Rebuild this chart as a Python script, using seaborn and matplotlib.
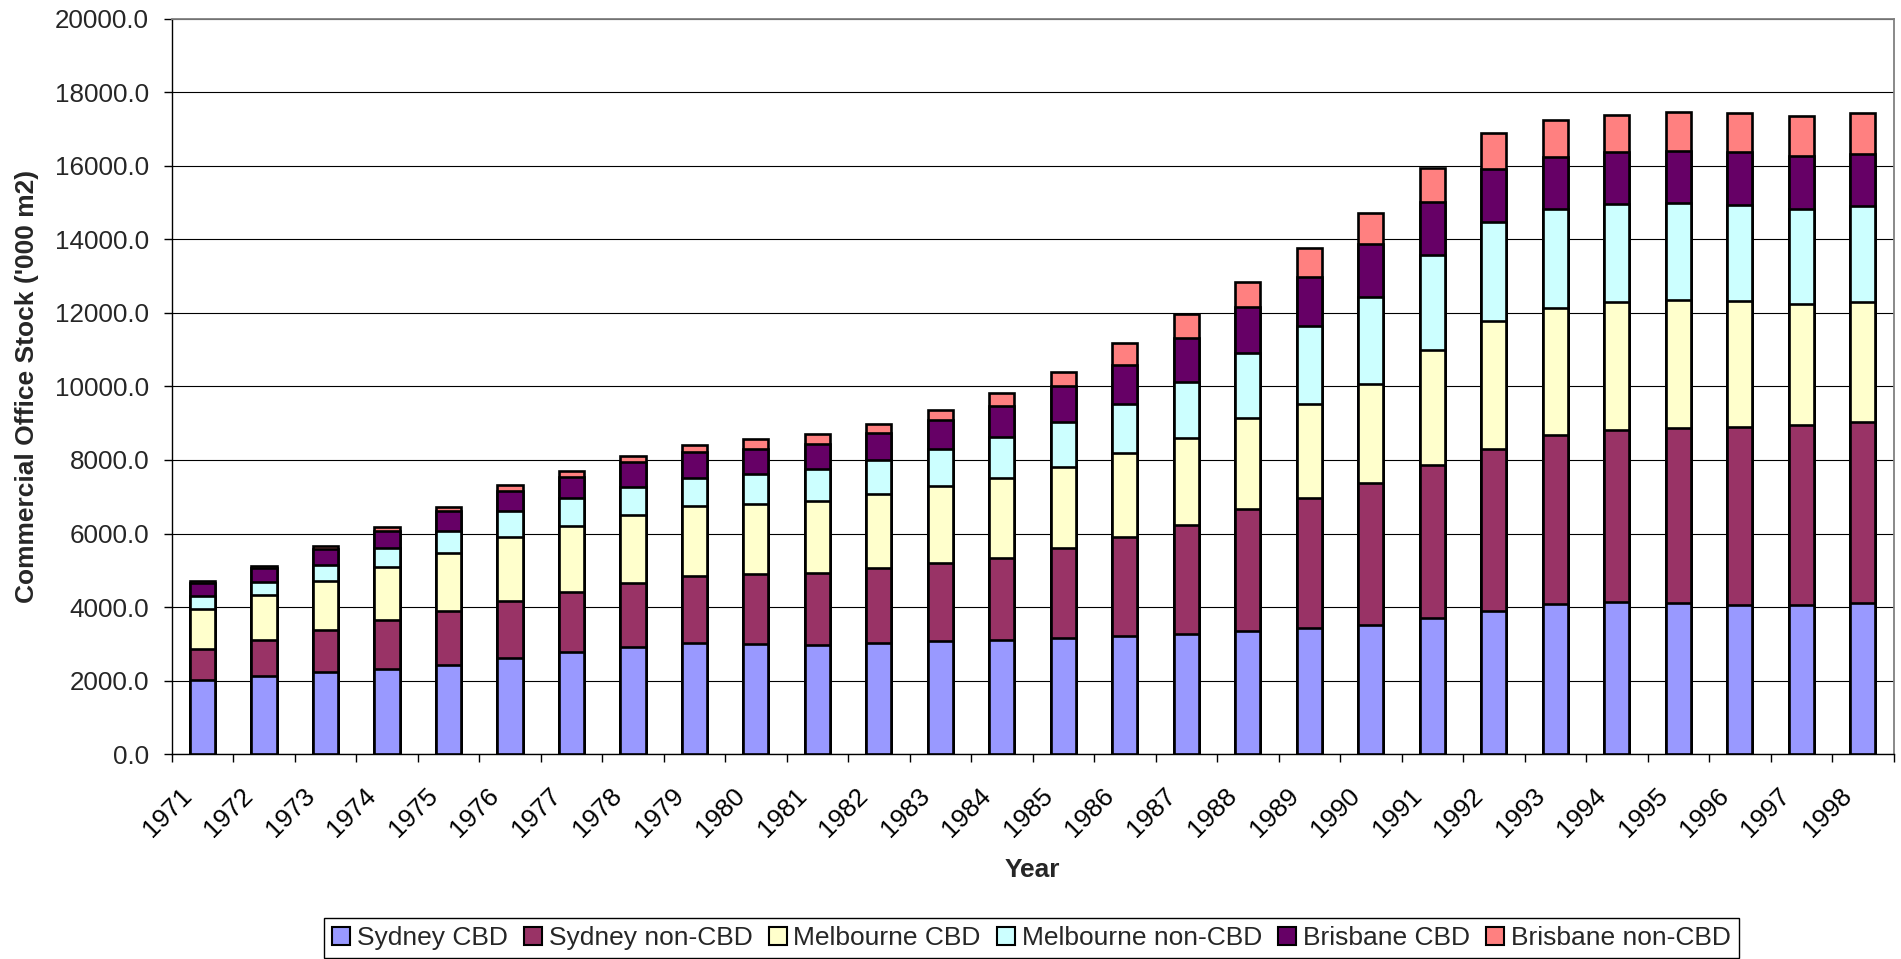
import numpy as np
import pandas as pd
import matplotlib
matplotlib.use("Agg")
import matplotlib.pyplot as plt
import matplotlib.transforms as mtransforms
from matplotlib.patches import Patch
import seaborn as sns

# ---------------- data ----------------
years = [str(y) for y in range(1971, 1999)]
series_names = ["Sydney CBD", "Sydney non-CBD", "Melbourne CBD",
                "Melbourne non-CBD", "Brisbane CBD", "Brisbane non-CBD"]
series_colors = ["#9999FF", "#993366", "#FFFFCC", "#CCFFFF", "#660066", "#FF8080"]

sydney_cbd = [2010, 2140, 2230, 2320, 2420, 2610, 2770, 2910, 3030, 3000,
              2980, 3030, 3070, 3110, 3170, 3220, 3280, 3360, 3420, 3510,
              3710, 3900, 4090, 4140, 4120, 4070, 4070, 4120]
sydney_non_cbd = [860, 970, 1160, 1320, 1470, 1550, 1650, 1750, 1820, 1890,
                  1940, 2030, 2130, 2220, 2430, 2690, 2960, 3300, 3550, 3870,
                  4160, 4410, 4600, 4680, 4750, 4830, 4880, 4900]
melbourne_cbd = [1090, 1210, 1320, 1460, 1590, 1750, 1790, 1850, 1910, 1910,
                 1970, 2020, 2100, 2180, 2210, 2280, 2360, 2490, 2540, 2690,
                 3110, 3480, 3440, 3480, 3470, 3430, 3280, 3270]
melbourne_non_cbd = [350, 360, 440, 510, 590, 700, 750, 750, 750, 820,
                     860, 930, 1000, 1110, 1230, 1320, 1520, 1770, 2120, 2360,
                     2590, 2670, 2680, 2650, 2640, 2610, 2590, 2610]
brisbane_cbd = [340, 380, 430, 460, 530, 560, 570, 680, 700, 690,
                690, 730, 780, 850, 960, 1080, 1190, 1230, 1340, 1430,
                1430, 1440, 1430, 1430, 1420, 1420, 1430, 1430]
brisbane_non_cbd = [70, 70, 90, 110, 110, 150, 180, 180, 210, 260,
                    270, 250, 290, 350, 390, 580, 660, 680, 800, 860,
                    930, 980, 1000, 1010, 1060, 1070, 1100, 1100]

y_ticks = list(range(0, 20001, 2000))
x_label = "Year"
y_label = "Commercial Office Stock ('000 m2)"

# ---------------- figure ----------------
sns.set_style("white")
plt.rcParams["font.family"] = ["Liberation Sans", "DejaVu Sans"]

W, H = 1901, 959
fig = plt.figure(figsize=(W / 100, H / 100), dpi=100)
ax_left, ax_right, ax_top, ax_bottom = 171.7, 1893.5, 18.5, 754.3
fig.subplots_adjust(left=ax_left / W, right=ax_right / W,
                    bottom=1 - ax_bottom / H, top=1 - ax_top / H)
ax = fig.add_subplot(111)

df = pd.DataFrame({
    "year": years,
    series_names[0]: sydney_cbd,
    series_names[1]: sydney_non_cbd,
    series_names[2]: melbourne_cbd,
    series_names[3]: melbourne_non_cbd,
    series_names[4]: brisbane_cbd,
    series_names[5]: brisbane_non_cbd,
})
cum = df[series_names].cumsum(axis=1)

# draw cumulative totals from the top series down so that they stack visually
for name, color in reversed(list(zip(series_names, series_colors))):
    sns.barplot(x=df["year"], y=cum[name], color=color, saturation=1,
                edgecolor="black", linewidth=1.9, width=0.41,
                errorbar=None, ax=ax, zorder=3)

ax.set_xlim(-0.5, len(years) - 0.5)
ax.set_ylim(0, 20000)
ax.set_yticks(y_ticks)
ax.set_yticklabels([f"{v:.1f}" for v in y_ticks])

ax.set_axisbelow(True)
ax.yaxis.grid(True, color="black", linewidth=0.8)
ax.xaxis.grid(False)

# x ticks: marks at category boundaries, labels at centres
ax.set_xticks(np.arange(len(years)))
ax.set_xticklabels(years, rotation=45, ha="right", va="center",
                   rotation_mode="anchor")
ax.set_xticks(np.arange(-0.5, len(years), 1.0), minor=True)
ax.tick_params(axis="x", which="major", length=0, pad=27.2,
               labelsize=18.7, colors="black")
ax.tick_params(axis="x", which="minor", length=5.8, width=1.0,
               color="black", direction="out", bottom=True)
ax.tick_params(axis="y", which="major", length=5.8, width=1.0,
               pad=10.4, labelsize=18.7, color="black", left=True,
               direction="out")
offset = mtransforms.ScaledTranslation(-14.7 / 100, 0, fig.dpi_scale_trans)
for lbl in ax.get_xticklabels():
    lbl.set_transform(lbl.get_transform() + offset)

for side in ("left", "bottom"):
    ax.spines[side].set_color("black")
    ax.spines[side].set_linewidth(1.0)
for side in ("top", "right"):
    ax.spines[side].set_visible(True)
    ax.spines[side].set_color("#808080")
    ax.spines[side].set_linewidth(1.3)

ax.set_xlabel(x_label, fontsize=19, fontweight="bold", va="center")
ax.xaxis.set_label_coords(0.5, -(870 - ax_bottom) / (ax_bottom - ax_top))
ax.set_ylabel(y_label, fontsize=19, fontweight="bold", va="center")
ax.yaxis.set_label_coords(-(ax_left - 27.5) / (ax_right - ax_left), 0.5)

handles = [Patch(facecolor=c, edgecolor="black", linewidth=1.5, label=n)
           for n, c in zip(series_names, series_colors)]
leg = fig.legend(handles=handles, loc="upper center", ncol=6,
                 bbox_to_anchor=((327 + 1736) / 2 / W, 1 - 918 / H),
                 bbox_transform=fig.transFigure,
                 fontsize=19, frameon=True, fancybox=False,
                 edgecolor="black", framealpha=1,
                 handlelength=0.68, handleheight=0.68,
                 handletextpad=0.25, columnspacing=0.62,
                 borderpad=0.3, borderaxespad=0)
leg.get_frame().set_linewidth(1.0)

fig.savefig("out.png", dpi=100)
